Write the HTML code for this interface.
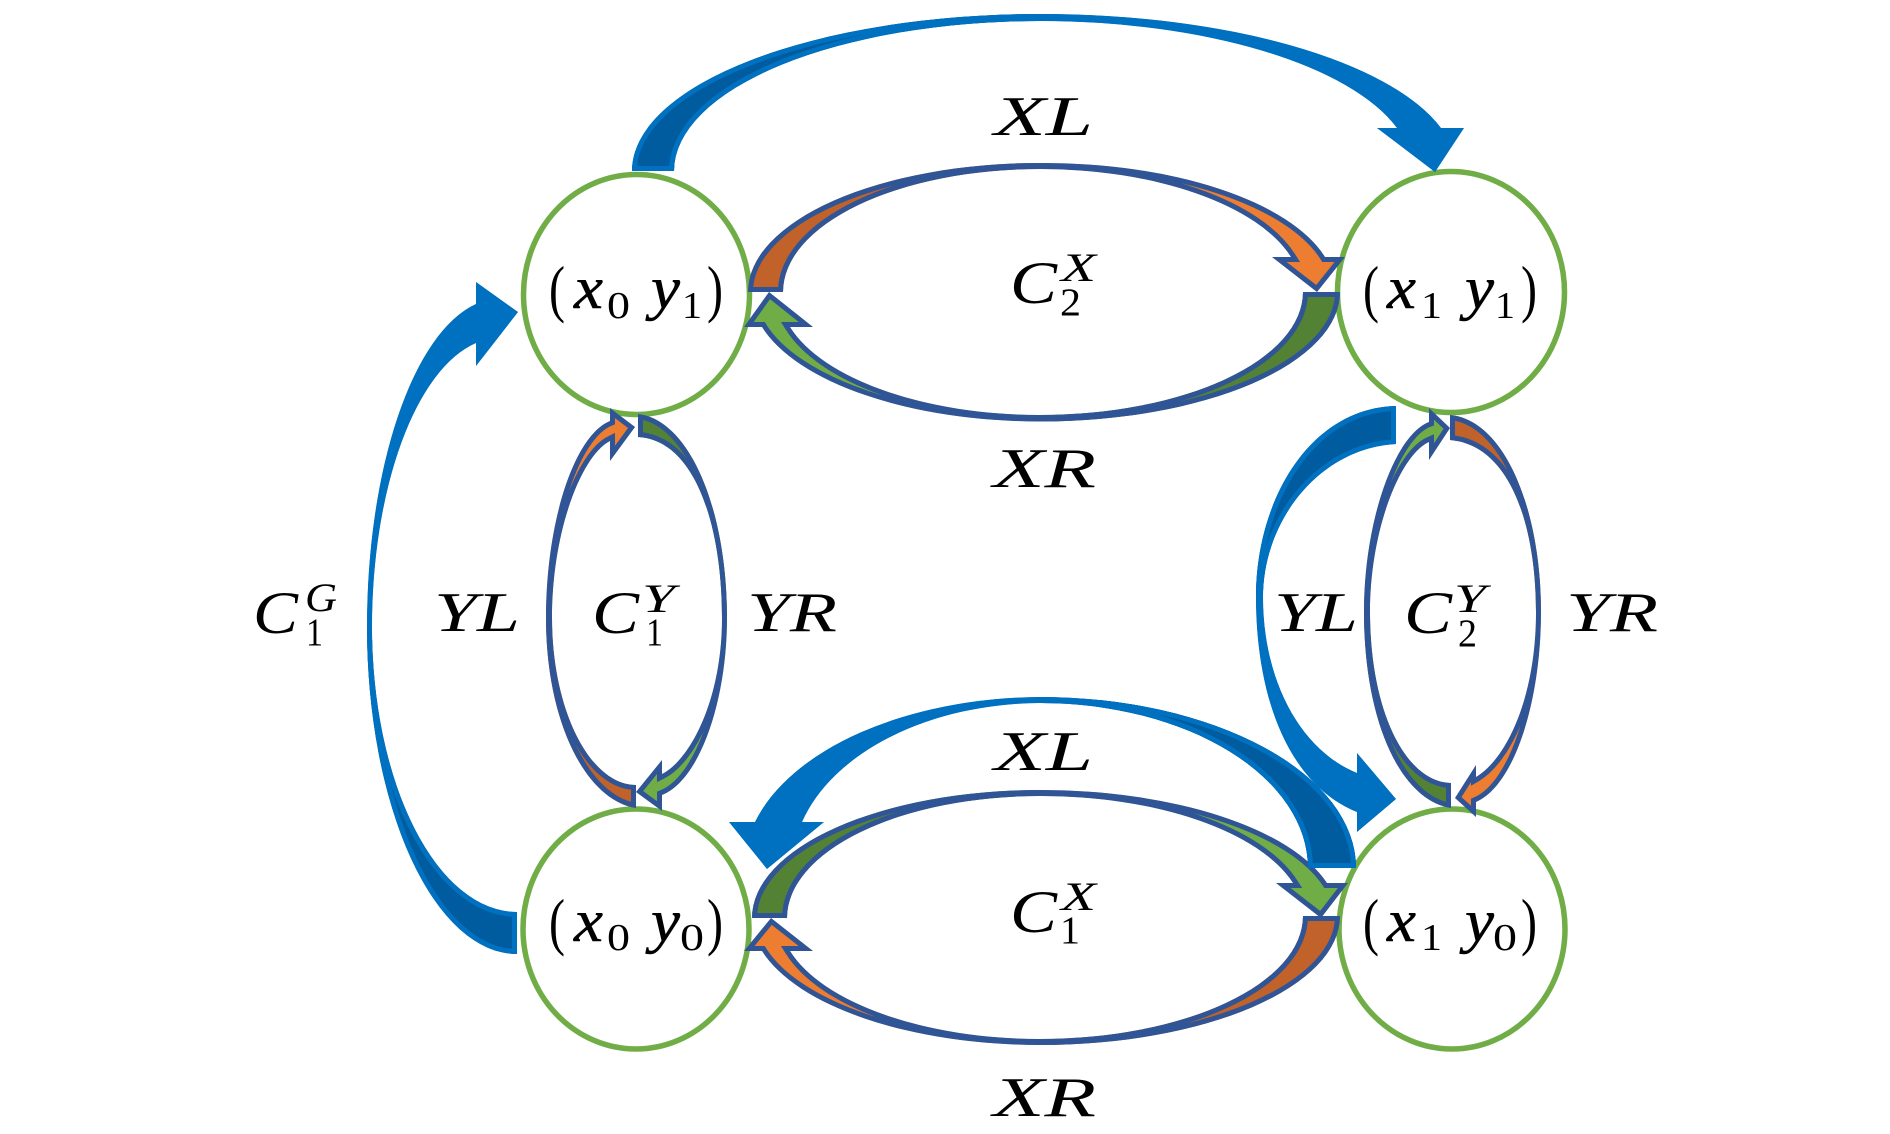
<!DOCTYPE html>
<html><head><meta charset="utf-8"><style>
html,body{margin:0;padding:0;background:#fff}
svg{display:block}
text{font-family:"Liberation Serif",serif;fill:#000}
.i{font-style:italic}
.b{stroke:#000;stroke-width:.5}
</style></head><body>
<svg width="1890" height="1134" viewBox="0 0 1890 1134" xmlns="http://www.w3.org/2000/svg">
<defs>
<path id="p1" d="M632 171A408 157 0 0 1 1040 14A415 157 0 0 1 1441 128L1464 128L1435 172L1377 128L1397 128A373 150 0 0 0 1040 21A366 150 0 0 0 674 171Z"/>
<path id="p2" d="M748 292A292 129 0 0 1 1040 163A292 128 0 0 1 1325 257L1345 257L1317 292L1272 257L1291 257A262 123 0 0 0 1040 169A257 123 0 0 0 783 292Z"/>
<path id="p3" d="M1340 292A300 129.500 0 0 1 1040 421.500A289 129.500 0 0 1 762 327L744 327L769 292L813 327L790 327A261 123 0 0 0 1040 415A263 123 0 0 0 1303 292Z"/>
<path id="p4" d="M752 918A288 128 0 0 1 1040 790A298 128 0 0 1 1327 883L1348 883L1321 918L1276 883L1293 883A263 122 0 0 0 1040 796A253 122 0 0 0 787 918Z"/>
<path id="p5" d="M1340 916A300 129 0 0 1 1040 1045A289 129 0 0 1 762 951L744 951L771 918L813 951L790 951A261 123 0 0 0 1040 1039A263 123 0 0 0 1303 916Z"/>
<path id="p6" d="M1356 868A316 171 0 0 0 1040 697A299 171 0 0 0 755 822L729 822L767 869L824 822L802 822A250 165 0 0 1 1040 703A268 165 0 0 1 1308 868Z"/>
<path id="p7" d="M517 954A150 327 0 0 1 367 627A133 328 0 0 1 476 304L476 282L518 312L476 366L476 343A128 289 0 0 0 372 627A145 285 0 0 0 517 912Z"/>
<path id="p8" d="M1396 406C1310 408 1256 500 1256 597C1256 700 1290 785 1357 812L1357 832L1396 799L1357 753L1357 773C1300 750 1263 680 1263 597C1263 520 1320 448 1396 444Z"/>
<path id="p9" d="M636 808C585 800 546 720 546 618C546 520 575 435 610 421L610 408L635 427L610 461L610 441C582 455 552 530 552 618C552 710 590 785 636 785Z"/>
<path id="p10" d="M638 414C690 420 727 510 727 618C727 700 700 780 662 795L662 811L636 792L662 760L662 774C690 760 722 700 722 618C722 525 695 440 638 437Z"/>
<path id="p11" d="M1451 808C1400 800 1364 720 1364 612C1364 520 1395 435 1429 422L1429 408L1450 428L1429 460L1429 442C1400 455 1370 530 1370 612C1370 710 1405 782 1451 783Z"/>
<path id="p12" d="M1450 415C1505 420 1541 510 1541 612C1541 700 1515 785 1476 802L1476 817L1455 798L1476 765L1476 777C1505 760 1536 700 1536 612C1536 525 1510 445 1450 440Z"/>
<clipPath id="c1"><use href="#p1"/></clipPath>
<clipPath id="c2"><use href="#p2"/></clipPath>
<clipPath id="c3"><use href="#p3"/></clipPath>
<clipPath id="c4"><use href="#p4"/></clipPath>
<clipPath id="c5"><use href="#p5"/></clipPath>
<clipPath id="c6"><use href="#p6"/></clipPath>
<clipPath id="c7"><use href="#p7"/></clipPath>
<clipPath id="c8"><use href="#p8"/></clipPath>
<clipPath id="c9"><use href="#p9"/></clipPath>
<clipPath id="c10"><use href="#p10"/></clipPath>
<clipPath id="c11"><use href="#p11"/></clipPath>
<clipPath id="c12"><use href="#p12"/></clipPath>
<clipPath id="tailr"><rect x="1100" y="600" width="400" height="400"/></clipPath>
</defs>
<rect width="1890" height="1134" fill="#fff"/>

<g fill="#fff" stroke="#70AD47" stroke-width="5.500">
<ellipse cx="636.500" cy="294.500" rx="113" ry="120"/>
<ellipse cx="1451" cy="292" rx="113.500" ry="120.500"/>
<ellipse cx="636" cy="929" rx="113" ry="120"/>
<ellipse cx="1452" cy="929" rx="113" ry="120"/>
</g>

<!-- blue arrows -->
<g clip-path="url(#c1)"><use href="#p1" fill="#0070C0"/><rect x="600" y="0" width="440" height="180" fill="#005C9E"/><use href="#p1" fill="none" stroke="#0070C0" stroke-width="10"/></g>
<g clip-path="url(#c7)"><use href="#p7" fill="#0070C0"/><rect x="350" y="640" width="180" height="330" fill="#005C9E"/><use href="#p7" fill="none" stroke="#0070C0" stroke-width="10"/></g>
<g clip-path="url(#c8)"><use href="#p8" fill="#0070C0"/><rect x="1240" y="390" width="170" height="200" fill="#005C9E"/><use href="#p8" fill="none" stroke="#0070C0" stroke-width="10"/></g>
<g clip-path="url(#c6)"><use href="#p6" fill="#0070C0"/><rect x="1040" y="680" width="330" height="200" fill="#005C9E"/><use href="#p6" fill="none" stroke="#0070C0" stroke-width="10"/></g>

<!-- horizontal pairs -->
<g clip-path="url(#c2)"><use href="#p2" fill="#ED7D31"/><rect x="740" y="150" width="300" height="150" fill="#C0622A"/><use href="#p2" fill="none" stroke="#2F5597" stroke-width="10"/></g>
<g clip-path="url(#c3)"><use href="#p3" fill="#70AD47"/><rect x="1040" y="285" width="310" height="150" fill="#548235"/><use href="#p3" fill="none" stroke="#2F5597" stroke-width="10"/></g>
<g clip-path="url(#c4)"><use href="#p4" fill="#70AD47"/><rect x="740" y="780" width="300" height="145" fill="#548235"/><use href="#p4" fill="none" stroke="#2F5597" stroke-width="10"/></g>
<g clip-path="url(#c5)"><use href="#p5" fill="#ED7D31"/><rect x="1040" y="910" width="310" height="145" fill="#C0622A"/><use href="#p5" fill="none" stroke="#2F5597" stroke-width="10"/></g>

<!-- lower XL tail on top of the green arrow -->
<g clip-path="url(#tailr)"><g clip-path="url(#c6)"><rect x="1040" y="680" width="330" height="200" fill="#005C9E"/><use href="#p6" fill="none" stroke="#0070C0" stroke-width="10"/></g></g>

<!-- vertical pairs -->
<g clip-path="url(#c9)"><use href="#p9" fill="#ED7D31"/><rect x="540" y="618" width="110" height="200" fill="#C0622A"/><use href="#p9" fill="none" stroke="#2F5597" stroke-width="10"/></g>
<g clip-path="url(#c10)"><use href="#p10" fill="#70AD47"/><rect x="630" y="405" width="105" height="213" fill="#548235"/><use href="#p10" fill="none" stroke="#2F5597" stroke-width="10"/></g>
<g clip-path="url(#c11)"><use href="#p11" fill="#70AD47"/><rect x="1355" y="612" width="100" height="200" fill="#548235"/><use href="#p11" fill="none" stroke="#2F5597" stroke-width="10"/></g>
<g clip-path="url(#c12)"><use href="#p12" fill="#ED7D31"/><rect x="1445" y="405" width="105" height="207" fill="#C0622A"/><use href="#p12" fill="none" stroke="#2F5597" stroke-width="10"/></g>

<!-- node labels -->
<g>
<text x="549" y="310" font-size="63" textLength="16" lengthAdjust="spacingAndGlyphs">(</text>
<text class="i b" x="574" y="308" font-size="60" textLength="29" lengthAdjust="spacingAndGlyphs">x</text>
<text x="607" y="318" font-size="38" textLength="23" lengthAdjust="spacingAndGlyphs">0</text>
<text class="i b" x="651" y="308" font-size="60" textLength="29" lengthAdjust="spacingAndGlyphs">y</text>
<text x="682" y="318" font-size="38" textLength="20" lengthAdjust="spacingAndGlyphs">1</text>
<text x="707" y="310" font-size="63" textLength="16" lengthAdjust="spacingAndGlyphs">)</text>

<text x="1363" y="310" font-size="63" textLength="16" lengthAdjust="spacingAndGlyphs">(</text>
<text class="i b" x="1387" y="308" font-size="60" textLength="29" lengthAdjust="spacingAndGlyphs">x</text>
<text x="1421" y="318" font-size="38" textLength="21" lengthAdjust="spacingAndGlyphs">1</text>
<text class="i b" x="1465" y="308" font-size="60" textLength="29" lengthAdjust="spacingAndGlyphs">y</text>
<text x="1495" y="318" font-size="38" textLength="20" lengthAdjust="spacingAndGlyphs">1</text>
<text x="1521" y="310" font-size="63" textLength="16" lengthAdjust="spacingAndGlyphs">)</text>

<text x="549" y="943" font-size="63" textLength="16" lengthAdjust="spacingAndGlyphs">(</text>
<text class="i b" x="574" y="941" font-size="60" textLength="29" lengthAdjust="spacingAndGlyphs">x</text>
<text x="607" y="950" font-size="38" textLength="23" lengthAdjust="spacingAndGlyphs">0</text>
<text class="i b" x="651" y="941" font-size="60" textLength="29" lengthAdjust="spacingAndGlyphs">y</text>
<text x="680" y="950" font-size="38" textLength="24" lengthAdjust="spacingAndGlyphs">0</text>
<text x="707" y="943" font-size="63" textLength="16" lengthAdjust="spacingAndGlyphs">)</text>

<text x="1363" y="943" font-size="63" textLength="16" lengthAdjust="spacingAndGlyphs">(</text>
<text class="i b" x="1387" y="941" font-size="60" textLength="29" lengthAdjust="spacingAndGlyphs">x</text>
<text x="1421" y="950" font-size="38" textLength="21" lengthAdjust="spacingAndGlyphs">1</text>
<text class="i b" x="1465" y="941" font-size="60" textLength="29" lengthAdjust="spacingAndGlyphs">y</text>
<text x="1493" y="950" font-size="38" textLength="24" lengthAdjust="spacingAndGlyphs">0</text>
<text x="1521" y="943" font-size="63" textLength="16" lengthAdjust="spacingAndGlyphs">)</text>
</g>

<!-- edge labels -->
<g>
<text class="i" x="994" y="135" font-size="56" textLength="99" lengthAdjust="spacingAndGlyphs">XL</text>
<text class="i" x="993" y="487" font-size="56" textLength="103" lengthAdjust="spacingAndGlyphs">XR</text>
<text class="i" x="994" y="770" font-size="56" textLength="99" lengthAdjust="spacingAndGlyphs">XL</text>
<text class="i" x="993" y="1116" font-size="56" textLength="103" lengthAdjust="spacingAndGlyphs">XR</text>
<text class="i" x="434" y="631" font-size="56" textLength="86" lengthAdjust="spacingAndGlyphs">YL</text>
<text class="i" x="747" y="631" font-size="56" textLength="90" lengthAdjust="spacingAndGlyphs">YR</text>
<text class="i" x="1274" y="631" font-size="56" textLength="84" lengthAdjust="spacingAndGlyphs">YL</text>
<text class="i" x="1566" y="631" font-size="56" textLength="92" lengthAdjust="spacingAndGlyphs">YR</text>

<text class="i" x="1010" y="303" font-size="60" textLength="47" lengthAdjust="spacingAndGlyphs">C</text>
<text class="i" x="1061" y="281" font-size="40" textLength="35" lengthAdjust="spacingAndGlyphs">X</text>
<text x="1060" y="315" font-size="39" textLength="21" lengthAdjust="spacingAndGlyphs">2</text>

<text class="i" x="1010" y="932" font-size="60" textLength="47" lengthAdjust="spacingAndGlyphs">C</text>
<text class="i" x="1061" y="910" font-size="40" textLength="35" lengthAdjust="spacingAndGlyphs">X</text>
<text x="1060" y="943" font-size="39" textLength="20" lengthAdjust="spacingAndGlyphs">1</text>

<text class="i" x="253" y="633" font-size="60" textLength="45" lengthAdjust="spacingAndGlyphs">C</text>
<text class="i" x="305" y="611" font-size="40" textLength="32" lengthAdjust="spacingAndGlyphs">G</text>
<text x="306" y="645" font-size="39" textLength="17" lengthAdjust="spacingAndGlyphs">1</text>

<text class="i" x="592" y="633" font-size="60" textLength="47" lengthAdjust="spacingAndGlyphs">C</text>
<text class="i" x="642" y="612" font-size="40" textLength="33" lengthAdjust="spacingAndGlyphs">Y</text>
<text x="646" y="645" font-size="39" textLength="17" lengthAdjust="spacingAndGlyphs">1</text>

<text class="i" x="1404" y="633" font-size="60" textLength="48" lengthAdjust="spacingAndGlyphs">C</text>
<text class="i" x="1454" y="612" font-size="40" textLength="32" lengthAdjust="spacingAndGlyphs">Y</text>
<text x="1458" y="646" font-size="39" textLength="19" lengthAdjust="spacingAndGlyphs">2</text>
</g>
</svg>
</body></html>
